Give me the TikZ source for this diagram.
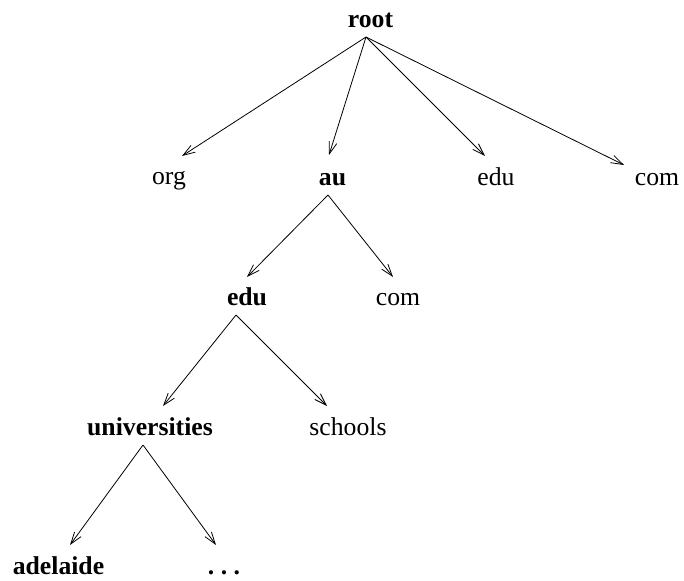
\documentclass[tikz,border=0pt]{standalone}
\usepackage{fontspec}
\setmainfont{Liberation Serif}
\usetikzlibrary{arrows.meta}
\begin{document}
\begin{tikzpicture}[x=1pt,y=-1pt,
  lbl/.style={anchor=base,inner sep=0pt,font=\fontsize{25.7}{30}\selectfont},
  blbl/.style={lbl,font=\fontsize{25.7}{30}\selectfont\bfseries},
  edge/.style={line width=0.8pt,-{Straight Barb[length=12pt,width=8pt,line width=0.8pt]}}]
\useasboundingbox (0,0) rectangle (684,580);
% domain names
\node[blbl] (root) at (370.5,28) {root};
\node[lbl]  (org)  at (169,184) {org};
\node[blbl] (au)   at (332.5,185) {au};
\node[lbl]  (edu1) at (496,185) {edu};
\node[lbl]  (com1) at (657,185) {com};
\node[blbl] (edu2) at (247,305) {edu};
\node[lbl]  (com2) at (398,305) {com};
\node[blbl] (univ) at (150,435) {universities};
\node[lbl]  (schl) at (348,435) {schools};
\node[blbl] (adel) at (58.5,574) {adelaide};
\node[blbl] (more) at (224,574) {.\hspace{0.25em}.\hspace{0.25em}.};
% where the edges leave a parent and reach a child
\coordinate (root-o) at (366,37);
\coordinate (org-i)  at (182,156);
\coordinate (au-i)   at (329,155);
\coordinate (edu1-i) at (485,156);
\coordinate (com1-i) at (624,165);
\coordinate (au-o)   at (328,195);
\coordinate (edu2-i) at (247,277);
\coordinate (com2-i) at (393,277);
\coordinate (edu2-o) at (236,315);
\coordinate (univ-i) at (163,406);
\coordinate (schl-i) at (327,406);
\coordinate (univ-o) at (143,445);
\coordinate (adel-i) at (70,545);
\coordinate (more-i) at (216,545);
% tree edges
\foreach \p/\c in {root/org,root/au,root/edu1,root/com1,au/edu2,au/com2,edu2/univ,edu2/schl,univ/adel,univ/more}
  \draw[edge] (\p-o) -- (\c-i);
\end{tikzpicture}
\end{document}
